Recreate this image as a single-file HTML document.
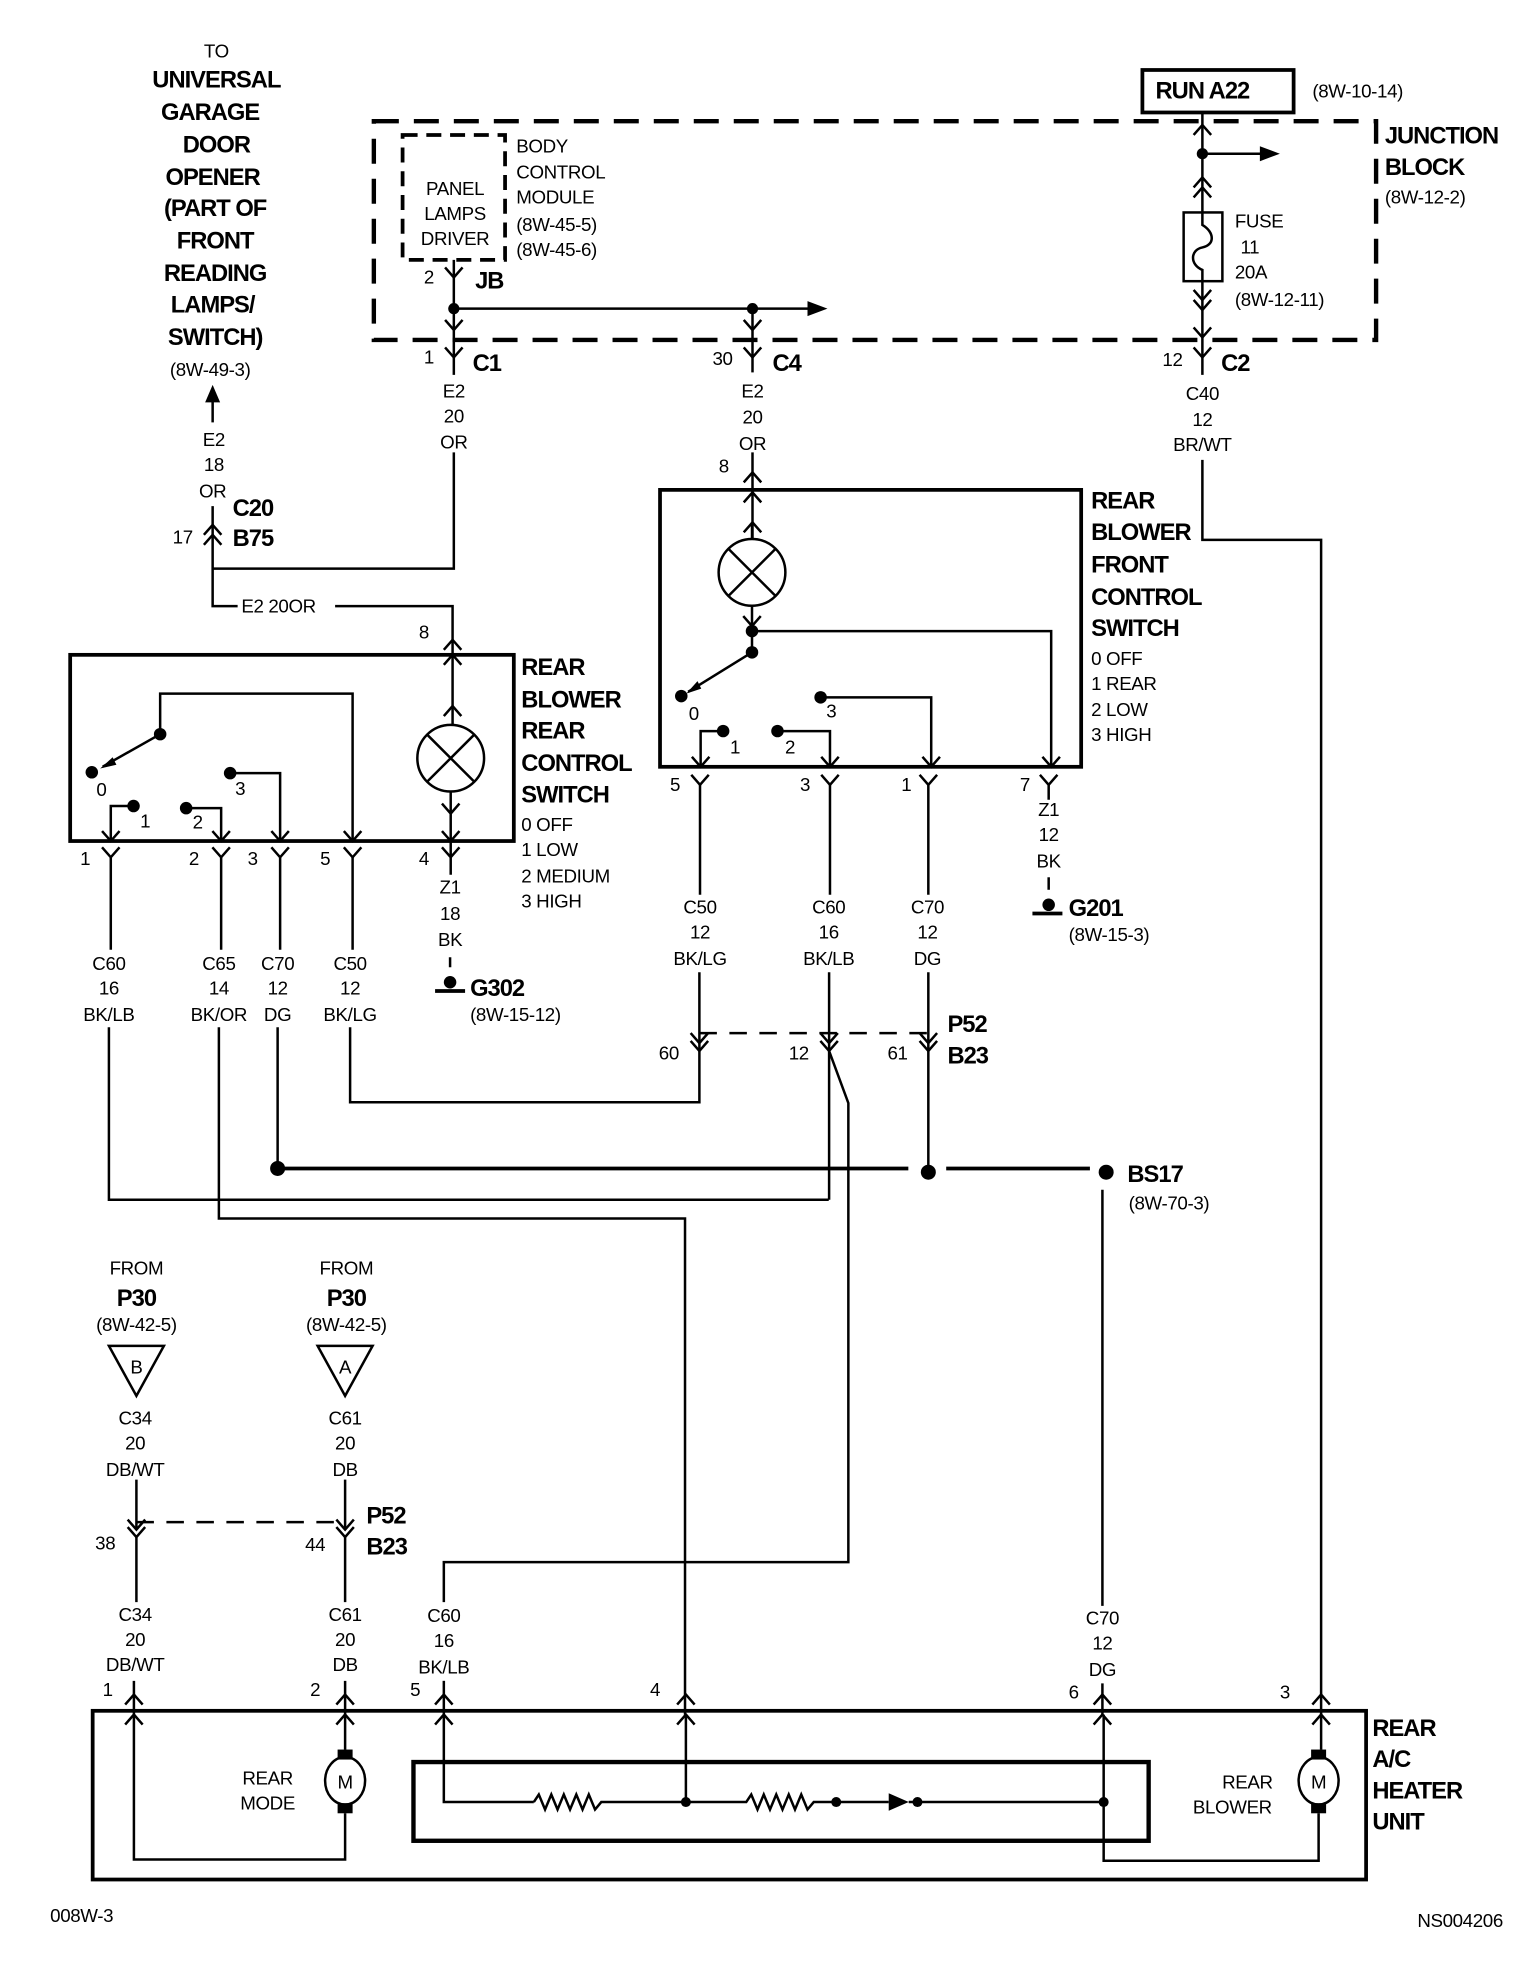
<!DOCTYPE html>
<html><head><meta charset="utf-8"><style>
html,body{margin:0;padding:0;background:#fff}
svg{display:block}
.r{font-family:"Liberation Sans Narrow","Liberation Sans",sans-serif;font-size:15px;letter-spacing:-0.3px;fill:#000}
.b{font-family:"Liberation Sans Narrow","Liberation Sans",sans-serif;font-size:19px;font-weight:bold;letter-spacing:-0.8px;fill:#000}
.c{text-anchor:middle}
</style></head><body>
<svg width="1520" height="1962" viewBox="0 0 1216 1570" xmlns="http://www.w3.org/2000/svg">
<defs>
<path id="v" d="M-7,-8 L0,0 L7,-8" fill="none" stroke="#000" stroke-width="2"/>
<path id="a" d="M-7,8 L0,0 L7,8" fill="none" stroke="#000" stroke-width="2"/>
</defs>
<g fill="none" stroke="#000" stroke-width="2">
<rect x="299" y="97" width="802" height="175" stroke-width="3.5" stroke-dasharray="20,12"/>
<rect x="322" y="108" width="82" height="100" stroke-width="3" stroke-dasharray="12,7"/>
<rect x="914" y="56" width="121" height="34" stroke-width="3"/>
<rect x="947" y="170" width="31" height="55"/>
<path d="M962,170 L962,180 C972,186 972,196 962,198 C952,200 952,212 962,216 L962,225"/>
<path d="M363,208 L363,300"/>
<path d="M363,362 L363,455 L170,455"/>
<path d="M363,247 L648,247"/>
<path d="M602,247 L602,298"/>
<path d="M602,362 L602,431"/>
<path d="M962,90 L962,170"/>
<path d="M962,123 L1010,123"/>
<path d="M962,225 L962,300"/>
<path d="M962,368 L962,432 L1057,432 L1057,1372"/>
<path d="M170,318 L170,338"/>
<path d="M170,405 L170,485 L190,485"/>
<path d="M268,485 L362,485 L362,580"/>
<rect x="56" y="524" width="355" height="149" stroke-width="3"/>
<circle cx="360.5" cy="606.7" r="26.7"/>
<path d="M341.6,587.8 L379.4,625.6 M379.4,587.8 L341.6,625.6"/>
<path d="M360.5,633.4 L360.5,700"/>
<path d="M128,587.5 L128,555 L282,555 L282,673"/>
<path d="M128,587.5 L82,613.5"/>
<path d="M106.7,645 L88.5,645 L88.5,673"/>
<path d="M148.8,646.7 L176.8,646.7 L176.8,673"/>
<path d="M184,618.7 L224,618.7 L224,673"/>
<path d="M88.5,686 L88.5,760 M176.8,686 L176.8,760 M224,686 L224,760 M282,686 L282,760"/>
<path d="M87,822 L87,960 L663,960"/>
<path d="M175,822 L175,975 L548,975 L548,1372"/>
<path d="M222,822 L222,935"/>
<path d="M280,822 L280,882 L559.5,882 L559.5,841"/>
<path d="M360,766 L360,774"/>
<path d="M348,793 L372,793" stroke-width="3"/>
<rect x="528" y="392" width="337" height="221.6" stroke-width="3"/>
<circle cx="601.6" cy="458" r="26.7"/>
<path d="M582.7,439.1 L620.5,476.9 M620.5,439.1 L582.7,476.9"/>
<path d="M601.6,418 L601.6,431.3"/>
<path d="M601.6,484.7 L601.6,522"/>
<path d="M601.6,505 L841,505 L841,613.6"/>
<path d="M601.6,522 L550.5,553.6"/>
<path d="M578.5,585 L560.5,585 L560.5,613.6"/>
<path d="M622,585 L664,585 L664,613.6"/>
<path d="M656.5,558 L745,558 L745,613.6"/>
<path d="M560,628 L560,716 M664,628 L664,716 M742.7,628 L742.7,716 M839,628 L839,640"/>
<path d="M559.5,778 L559.5,841"/>
<path d="M663.3,778 L663.3,960"/>
<path d="M663.3,841 L678.7,882.7 L678.7,1250 L355,1250 L355,1282"/>
<path d="M742.7,778 L742.7,938"/>
<path d="M839,702 L839,712"/>
<path d="M826,731 L850,731" stroke-width="3"/>
<path d="M222,935 L726.7,935 M757,935 L872,935" stroke-width="3"/>
<path d="M559.5,826.7 L742.7,826.7" stroke-dasharray="14,10"/>
<path d="M882,952 L882,1285 M882,1347 L882,1372"/>
<path d="M355,1345 L355,1372"/>
<path d="M87,1077 L131,1077 L109,1117 Z"/>
<path d="M254,1077 L298,1077 L276,1117 Z"/>
<path d="M109,1184 L109,1224 M276,1184 L276,1224"/>
<path d="M109,1218 L276,1218" stroke-dasharray="14,10"/>
<path d="M109,1230 L109,1282 M276,1230 L276,1282"/>
<path d="M107,1345 L107,1372 M276,1345 L276,1372"/>
<rect x="74" y="1369" width="1019" height="135" stroke-width="3"/>
<rect x="330.7" y="1410" width="588.3" height="63" stroke-width="3.5"/>
<path d="M276,1372 L276,1400"/>
<path d="M276,1451 L276,1488 L107,1488 L107,1372"/>
<path d="M1057,1372 L1057,1400"/>
<path d="M1055,1451 L1055,1489 L883,1489 L883,1372"/>
<path d="M355,1372 L355,1442 L427,1442"/>
<path d="M427,1442 L431,1436 L436,1448 L441,1436 L446,1448 L451,1436 L456,1448 L461,1436 L466,1448 L471,1436 L476,1448 L481,1442 L548.7,1442"/>
<path d="M548.7,1372 L548.7,1442"/>
<path d="M548.7,1442 L597,1442 L601,1436 L606,1448 L611,1436 L616,1448 L621,1436 L626,1448 L631,1436 L636,1448 L641,1436 L646,1448 L651,1442 L711,1442"/>
<path d="M727,1442 L883,1442"/>
</g>
<g fill="#fff" stroke="#000" stroke-width="2">
<ellipse cx="276" cy="1425" rx="16" ry="19"/>
<ellipse cx="1055" cy="1425" rx="16" ry="19"/>
</g>
<g fill="#000">
<rect x="270" y="1400" width="12" height="8"/><rect x="270" y="1443" width="12" height="8"/>
<rect x="1049" y="1400" width="12" height="8"/><rect x="1049" y="1443" width="12" height="8"/>
<polygon points="711,1435 727,1442 711,1449"/>
<circle cx="548.7" cy="1442" r="4"/><circle cx="669" cy="1442" r="4"/><circle cx="734" cy="1442" r="4"/><circle cx="883" cy="1442" r="4"/>
<circle cx="363" cy="247" r="4.5"/><circle cx="602" cy="247" r="4.5"/><circle cx="962" cy="123" r="4.5"/>
<polygon points="646,241 662,247 646,253"/><polygon points="1008,117 1024,123 1008,129"/>
<polygon points="170,308 164,322 176,322"/>
<circle cx="128" cy="587.5" r="5"/><circle cx="73.3" cy="618" r="5"/><circle cx="106.7" cy="645" r="5"/><circle cx="148.8" cy="646.7" r="5"/><circle cx="184" cy="618.7" r="5"/>
<polygon points="80,615 90,606 93,612"/>
<circle cx="601.6" cy="505" r="5"/><circle cx="601.6" cy="522" r="5"/><circle cx="545" cy="557" r="5"/><circle cx="578.5" cy="585" r="5"/><circle cx="622" cy="585" r="5"/><circle cx="656.5" cy="558" r="5"/>
<polygon points="549,555 558,545 561,551"/>
<circle cx="222" cy="935" r="6"/><circle cx="742.7" cy="938" r="6"/><circle cx="885" cy="938" r="6"/>
<circle cx="360" cy="786" r="5"/><circle cx="839" cy="724" r="5"/>
</g>
<use href="#v" x="363" y="222"/><use href="#v" x="363" y="264"/><use href="#v" x="363" y="286"/>
<use href="#v" x="602" y="264"/><use href="#v" x="602" y="286"/>
<use href="#a" x="602" y="378"/><use href="#a" x="602" y="394"/><use href="#a" x="602" y="418"/>
<use href="#v" x="601.6" y="501"/>
<use href="#a" x="962" y="100"/><use href="#a" x="962" y="142"/><use href="#a" x="962" y="150"/>
<use href="#v" x="962" y="240"/><use href="#v" x="962" y="248"/><use href="#v" x="962" y="270"/><use href="#v" x="962" y="286"/>
<use href="#a" x="170" y="420"/><use href="#a" x="170" y="428"/>
<use href="#a" x="362" y="512"/><use href="#a" x="362" y="524"/><use href="#a" x="362" y="565"/>
<use href="#v" x="360.5" y="651"/><use href="#v" x="360.5" y="673"/><use href="#v" x="360.5" y="686"/>
<use href="#v" x="88.5" y="673"/><use href="#v" x="176.8" y="673"/><use href="#v" x="224" y="673"/><use href="#v" x="282" y="673"/>
<use href="#v" x="88.5" y="686"/><use href="#v" x="176.8" y="686"/><use href="#v" x="224" y="686"/><use href="#v" x="282" y="686"/>
<use href="#v" x="560.5" y="613.6"/><use href="#v" x="664" y="613.6"/><use href="#v" x="745" y="613.6"/><use href="#v" x="841" y="613.6"/>
<use href="#v" x="560" y="628"/><use href="#v" x="664" y="628"/><use href="#v" x="742.7" y="628"/><use href="#v" x="839" y="628"/>
<use href="#v" x="559.5" y="834.7"/><use href="#v" x="559.5" y="841"/><use href="#v" x="663.3" y="834.7"/><use href="#v" x="663.3" y="841"/><use href="#v" x="742.7" y="834.7"/><use href="#v" x="742.7" y="841"/>
<use href="#v" x="109" y="1224"/><use href="#v" x="109" y="1230"/><use href="#v" x="276" y="1224"/><use href="#v" x="276" y="1230"/>
<use href="#a" x="107" y="1356"/><use href="#a" x="276" y="1356"/><use href="#a" x="355" y="1356"/><use href="#a" x="548.7" y="1356"/><use href="#a" x="882" y="1356"/><use href="#a" x="1057" y="1356"/>
<use href="#a" x="107" y="1372"/><use href="#a" x="276" y="1372"/><use href="#a" x="355" y="1372"/><use href="#a" x="548.7" y="1372"/><use href="#a" x="882" y="1372"/><use href="#a" x="1057" y="1372"/>
<g class="r c">
<text x="173" y="46">TO</text>
<text x="168" y="301">(8W-49-3)</text>
<text x="171" y="357">E2</text><text x="171" y="377">18</text><text x="170" y="398">OR</text>
<text x="363" y="318">E2</text><text x="363" y="338">20</text><text x="363" y="359">OR</text>
<text x="602" y="318">E2</text><text x="602" y="339">20</text><text x="602" y="360">OR</text>
<text x="962" y="320">C40</text><text x="962" y="341">12</text><text x="962" y="361">BR/WT</text>
<text x="364" y="156">PANEL</text><text x="364" y="176">LAMPS</text><text x="364" y="196">DRIVER</text>
<text x="560" y="731">C50</text><text x="560" y="751">12</text><text x="560" y="772">BK/LG</text>
<text x="663" y="731">C60</text><text x="663" y="751">16</text><text x="663" y="772">BK/LB</text>
<text x="742" y="731">C70</text><text x="742" y="751">12</text><text x="742" y="772">DG</text>
<text x="839" y="653">Z1</text><text x="839" y="673">12</text><text x="839" y="694">BK</text>
<text x="360" y="715">Z1</text><text x="360" y="736">18</text><text x="360" y="757">BK</text>
<text x="87" y="776">C60</text><text x="87" y="796">16</text><text x="87" y="817">BK/LB</text>
<text x="175" y="776">C65</text><text x="175" y="796">14</text><text x="175" y="817">BK/OR</text>
<text x="222" y="776">C70</text><text x="222" y="796">12</text><text x="222" y="817">DG</text>
<text x="280" y="776">C50</text><text x="280" y="796">12</text><text x="280" y="817">BK/LG</text>
<text x="109" y="1020">FROM</text><text x="109" y="1065">(8W-42-5)</text>
<text x="277" y="1020">FROM</text><text x="277" y="1065">(8W-42-5)</text>
<text x="109" y="1099">B</text><text x="276" y="1099">A</text>
<text x="108" y="1140">C34</text><text x="108" y="1160">20</text><text x="108" y="1181">DB/WT</text>
<text x="276" y="1140">C61</text><text x="276" y="1160">20</text><text x="276" y="1181">DB</text>
<text x="108" y="1297">C34</text><text x="108" y="1317">20</text><text x="108" y="1337">DB/WT</text>
<text x="276" y="1297">C61</text><text x="276" y="1317">20</text><text x="276" y="1337">DB</text>
<text x="355" y="1298">C60</text><text x="355" y="1318">16</text><text x="355" y="1339">BK/LB</text>
<text x="882" y="1300">C70</text><text x="882" y="1320">12</text><text x="882" y="1341">DG</text>
<text x="214" y="1428">REAR</text><text x="214" y="1448">MODE</text>
<text x="998" y="1431">REAR</text><text x="986" y="1451">BLOWER</text>
<text x="276" y="1431">M</text><text x="1055" y="1431">M</text>
<text x="1000" y="203">11</text>
<text x="81" y="637">0</text><text x="116" y="662">1</text><text x="158" y="663">2</text><text x="192" y="636">3</text>
<text x="555" y="576">0</text><text x="588" y="603">1</text><text x="632" y="603">2</text><text x="665" y="574">3</text>
</g>
<g class="r">
<text x="413" y="122">BODY</text><text x="413" y="143">CONTROL</text><text x="413" y="163">MODULE</text><text x="413" y="185">(8W-45-5)</text><text x="413" y="205">(8W-45-6)</text>
<text x="1050" y="78">(8W-10-14)</text>
<text x="1108" y="163">(8W-12-2)</text>
<text x="988" y="182">FUSE</text><text x="988" y="223">20A</text><text x="988" y="245">(8W-12-11)</text>
<text x="193" y="490">E2  20OR</text>
<text x="417" y="665">0 OFF</text><text x="417" y="685">1 LOW</text><text x="417" y="706">2 MEDIUM</text><text x="417" y="726">3 HIGH</text>
<text x="873" y="532">0 OFF</text><text x="873" y="552">1 REAR</text><text x="873" y="573">2 LOW</text><text x="873" y="593">3 HIGH</text>
<text x="855" y="753">(8W-15-3)</text>
<text x="376" y="817">(8W-15-12)</text>
<text x="903" y="968">(8W-70-3)</text>
<text x="40" y="1538">008W-3</text>
<text x="1134" y="1542">NS004206</text>
<text x="339" y="227">2</text><text x="339" y="291">1</text><text x="570" y="292">30</text><text x="930" y="293">12</text>
<text x="575" y="378">8</text><text x="335" y="511">8</text><text x="138" y="435">17</text>
<text x="64" y="692">1</text><text x="151" y="692">2</text><text x="198" y="692">3</text><text x="256" y="692">5</text><text x="335" y="692">4</text>
<text x="536" y="633">5</text><text x="640" y="633">3</text><text x="721" y="633">1</text><text x="816" y="633">7</text>
<text x="527" y="848">60</text><text x="631" y="848">12</text><text x="710" y="848">61</text>
<text x="76" y="1240">38</text><text x="244" y="1241">44</text>
<text x="82" y="1357">1</text><text x="248" y="1357">2</text><text x="328" y="1357">5</text><text x="520" y="1357">4</text><text x="855" y="1359">6</text><text x="1024" y="1359">3</text>
</g>
<g class="b c">
<text x="173" y="70">UNIVERSAL</text><text x="168" y="96">GARAGE</text><text x="173" y="122">DOOR</text><text x="170" y="148">OPENER</text><text x="172" y="173">(PART OF</text><text x="172" y="199">FRONT</text><text x="172" y="225">READING</text><text x="170" y="250">LAMPS/</text><text x="172" y="276">SWITCH)</text>
<text x="962" y="79">RUN A22</text>
<text x="109" y="1045">P30</text><text x="277" y="1045">P30</text>
</g>
<g class="b">
<text x="1108" y="115">JUNCTION</text><text x="1108" y="140">BLOCK</text>
<text x="380" y="231">JB</text><text x="378" y="297">C1</text><text x="618" y="297">C4</text><text x="977" y="297">C2</text>
<text x="186" y="413">C20</text><text x="186" y="437">B75</text>
<text x="417" y="540">REAR</text><text x="417" y="566">BLOWER</text><text x="417" y="591">REAR</text><text x="417" y="617">CONTROL</text><text x="417" y="642">SWITCH</text>
<text x="873" y="407">REAR</text><text x="873" y="432">BLOWER</text><text x="873" y="458">FRONT</text><text x="873" y="484">CONTROL</text><text x="873" y="509">SWITCH</text>
<text x="855" y="733">G201</text><text x="376" y="797">G302</text>
<text x="758" y="826">P52</text><text x="758" y="851">B23</text>
<text x="902" y="946">BS17</text>
<text x="293" y="1219">P52</text><text x="293" y="1244">B23</text>
<text x="1098" y="1389">REAR</text><text x="1098" y="1414">A/C</text><text x="1098" y="1439">HEATER</text><text x="1098" y="1464">UNIT</text>
</g>
</svg>
</body></html>
